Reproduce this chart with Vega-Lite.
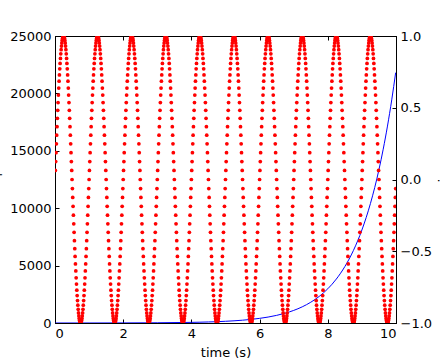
{"$schema":"https://vega.github.io/schema/vega-lite/v6.json","width":341,"height":287,"autosize":"none","padding":{"left":55,"top":36,"right":44,"bottom":37},
"config":{"view":{"stroke":"black","strokeWidth":1},"font":"DejaVu Sans","axis":{"labelFont":"DejaVu Sans","titleFont":"DejaVu Sans","labelFontSize":13,"titleFontSize":13,"titleFontWeight":"normal","labelColor":"black","titleColor":"black","domainColor":"black","tickColor":"black","tickSize":-4,"grid":false,"labelPadding":8}},
"datasets":{"expd":[{"t":0.01,"e":1.01},{"t":1,"e":2.718},{"t":2,"e":7.389},{"t":3,"e":20.09},{"t":4,"e":54.6},{"t":4.25,"e":70.1},{"t":4.5,"e":90.0},{"t":4.75,"e":115.6},{"t":5,"e":148.4},{"t":5.25,"e":190.6},{"t":5.5,"e":244.7},{"t":5.75,"e":314.2},{"t":6,"e":403.4},{"t":6.25,"e":518.0},{"t":6.5,"e":665.1},{"t":6.75,"e":854.1},{"t":7,"e":1096.6},{"t":7.25,"e":1408.1},{"t":7.5,"e":1808.0},{"t":7.75,"e":2321.6},{"t":8,"e":2981.0},{"t":8.25,"e":3827.6},{"t":8.5,"e":4914.8},{"t":8.75,"e":6310.7},{"t":9,"e":8103.1},{"t":9.25,"e":10404.6},{"t":9.5,"e":13359.7},{"t":9.625,"e":15138.6},{"t":9.75,"e":17154.2},{"t":9.875,"e":19438.3},{"t":9.99,"e":21807.3}],
"sind":[
{"t":0.01,"s":0.063},{"t":0.02,"s":0.125},{"t":0.03,"s":0.187},{"t":0.04,"s":0.249},{"t":0.05,"s":0.309},{"t":0.06,"s":0.368},{"t":0.07,"s":0.426},{"t":0.08,"s":0.482},{"t":0.09,"s":0.536},{"t":0.10,"s":0.588},{"t":0.11,"s":0.637},{"t":0.12,"s":0.685},{"t":0.13,"s":0.729},{"t":0.14,"s":0.771},{"t":0.15,"s":0.809},{"t":0.16,"s":0.844},{"t":0.17,"s":0.876},{"t":0.18,"s":0.905},{"t":0.19,"s":0.93},{"t":0.20,"s":0.951},{"t":0.21,"s":0.969},{"t":0.22,"s":0.982},{"t":0.23,"s":0.992},{"t":0.24,"s":0.998},{"t":0.25,"s":1},{"t":0.26,"s":0.998},{"t":0.27,"s":0.992},{"t":0.28,"s":0.982},{"t":0.29,"s":0.969},{"t":0.30,"s":0.951},{"t":0.31,"s":0.93},{"t":0.32,"s":0.905},{"t":0.33,"s":0.876},{"t":0.34,"s":0.844},{"t":0.35,"s":0.809},{"t":0.36,"s":0.771},{"t":0.37,"s":0.729},{"t":0.38,"s":0.685},{"t":0.39,"s":0.637},{"t":0.40,"s":0.588},{"t":0.41,"s":0.536},{"t":0.42,"s":0.482},{"t":0.43,"s":0.426},{"t":0.44,"s":0.368},{"t":0.45,"s":0.309},{"t":0.46,"s":0.249},{"t":0.47,"s":0.187},{"t":0.48,"s":0.125},{"t":0.49,"s":0.063},{"t":0.50,"s":0},{"t":0.51,"s":-0.063},{"t":0.52,"s":-0.125},{"t":0.53,"s":-0.187},{"t":0.54,"s":-0.249},{"t":0.55,"s":-0.309},{"t":0.56,"s":-0.368},{"t":0.57,"s":-0.426},{"t":0.58,"s":-0.482},{"t":0.59,"s":-0.536},{"t":0.60,"s":-0.588},{"t":0.61,"s":-0.637},{"t":0.62,"s":-0.685},{"t":0.63,"s":-0.729},{"t":0.64,"s":-0.771},{"t":0.65,"s":-0.809},{"t":0.66,"s":-0.844},{"t":0.67,"s":-0.876},{"t":0.68,"s":-0.905},{"t":0.69,"s":-0.93},{"t":0.70,"s":-0.951},{"t":0.71,"s":-0.969},{"t":0.72,"s":-0.982},{"t":0.73,"s":-0.992},{"t":0.74,"s":-0.998},{"t":0.75,"s":-1},{"t":0.76,"s":-0.998},{"t":0.77,"s":-0.992},{"t":0.78,"s":-0.982},{"t":0.79,"s":-0.969},{"t":0.80,"s":-0.951},{"t":0.81,"s":-0.93},{"t":0.82,"s":-0.905},{"t":0.83,"s":-0.876},{"t":0.84,"s":-0.844},{"t":0.85,"s":-0.809},{"t":0.86,"s":-0.771},{"t":0.87,"s":-0.729},{"t":0.88,"s":-0.685},{"t":0.89,"s":-0.637},{"t":0.90,"s":-0.588},{"t":0.91,"s":-0.536},{"t":0.92,"s":-0.482},{"t":0.93,"s":-0.426},{"t":0.94,"s":-0.368},{"t":0.95,"s":-0.309},{"t":0.96,"s":-0.249},{"t":0.97,"s":-0.187},{"t":0.98,"s":-0.125},{"t":0.99,"s":-0.063},
{"t":1.00,"s":0},{"t":1.01,"s":0.063},{"t":1.02,"s":0.125},{"t":1.03,"s":0.187},{"t":1.04,"s":0.249},{"t":1.05,"s":0.309},{"t":1.06,"s":0.368},{"t":1.07,"s":0.426},{"t":1.08,"s":0.482},{"t":1.09,"s":0.536},{"t":1.10,"s":0.588},{"t":1.11,"s":0.637},{"t":1.12,"s":0.685},{"t":1.13,"s":0.729},{"t":1.14,"s":0.771},{"t":1.15,"s":0.809},{"t":1.16,"s":0.844},{"t":1.17,"s":0.876},{"t":1.18,"s":0.905},{"t":1.19,"s":0.93},{"t":1.20,"s":0.951},{"t":1.21,"s":0.969},{"t":1.22,"s":0.982},{"t":1.23,"s":0.992},{"t":1.24,"s":0.998},{"t":1.25,"s":1},{"t":1.26,"s":0.998},{"t":1.27,"s":0.992},{"t":1.28,"s":0.982},{"t":1.29,"s":0.969},{"t":1.30,"s":0.951},{"t":1.31,"s":0.93},{"t":1.32,"s":0.905},{"t":1.33,"s":0.876},{"t":1.34,"s":0.844},{"t":1.35,"s":0.809},{"t":1.36,"s":0.771},{"t":1.37,"s":0.729},{"t":1.38,"s":0.685},{"t":1.39,"s":0.637},{"t":1.40,"s":0.588},{"t":1.41,"s":0.536},{"t":1.42,"s":0.482},{"t":1.43,"s":0.426},{"t":1.44,"s":0.368},{"t":1.45,"s":0.309},{"t":1.46,"s":0.249},{"t":1.47,"s":0.187},{"t":1.48,"s":0.125},{"t":1.49,"s":0.063},{"t":1.50,"s":0},{"t":1.51,"s":-0.063},{"t":1.52,"s":-0.125},{"t":1.53,"s":-0.187},{"t":1.54,"s":-0.249},{"t":1.55,"s":-0.309},{"t":1.56,"s":-0.368},{"t":1.57,"s":-0.426},{"t":1.58,"s":-0.482},{"t":1.59,"s":-0.536},{"t":1.60,"s":-0.588},{"t":1.61,"s":-0.637},{"t":1.62,"s":-0.685},{"t":1.63,"s":-0.729},{"t":1.64,"s":-0.771},{"t":1.65,"s":-0.809},{"t":1.66,"s":-0.844},{"t":1.67,"s":-0.876},{"t":1.68,"s":-0.905},{"t":1.69,"s":-0.93},{"t":1.70,"s":-0.951},{"t":1.71,"s":-0.969},{"t":1.72,"s":-0.982},{"t":1.73,"s":-0.992},{"t":1.74,"s":-0.998},{"t":1.75,"s":-1},{"t":1.76,"s":-0.998},{"t":1.77,"s":-0.992},{"t":1.78,"s":-0.982},{"t":1.79,"s":-0.969},{"t":1.80,"s":-0.951},{"t":1.81,"s":-0.93},{"t":1.82,"s":-0.905},{"t":1.83,"s":-0.876},{"t":1.84,"s":-0.844},{"t":1.85,"s":-0.809},{"t":1.86,"s":-0.771},{"t":1.87,"s":-0.729},{"t":1.88,"s":-0.685},{"t":1.89,"s":-0.637},{"t":1.90,"s":-0.588},{"t":1.91,"s":-0.536},{"t":1.92,"s":-0.482},{"t":1.93,"s":-0.426},{"t":1.94,"s":-0.368},{"t":1.95,"s":-0.309},{"t":1.96,"s":-0.249},{"t":1.97,"s":-0.187},{"t":1.98,"s":-0.125},{"t":1.99,"s":-0.063},
{"t":2.00,"s":0},{"t":2.01,"s":0.063},{"t":2.02,"s":0.125},{"t":2.03,"s":0.187},{"t":2.04,"s":0.249},{"t":2.05,"s":0.309},{"t":2.06,"s":0.368},{"t":2.07,"s":0.426},{"t":2.08,"s":0.482},{"t":2.09,"s":0.536},{"t":2.10,"s":0.588},{"t":2.11,"s":0.637},{"t":2.12,"s":0.685},{"t":2.13,"s":0.729},{"t":2.14,"s":0.771},{"t":2.15,"s":0.809},{"t":2.16,"s":0.844},{"t":2.17,"s":0.876},{"t":2.18,"s":0.905},{"t":2.19,"s":0.93},{"t":2.20,"s":0.951},{"t":2.21,"s":0.969},{"t":2.22,"s":0.982},{"t":2.23,"s":0.992},{"t":2.24,"s":0.998},{"t":2.25,"s":1},{"t":2.26,"s":0.998},{"t":2.27,"s":0.992},{"t":2.28,"s":0.982},{"t":2.29,"s":0.969},{"t":2.30,"s":0.951},{"t":2.31,"s":0.93},{"t":2.32,"s":0.905},{"t":2.33,"s":0.876},{"t":2.34,"s":0.844},{"t":2.35,"s":0.809},{"t":2.36,"s":0.771},{"t":2.37,"s":0.729},{"t":2.38,"s":0.685},{"t":2.39,"s":0.637},{"t":2.40,"s":0.588},{"t":2.41,"s":0.536},{"t":2.42,"s":0.482},{"t":2.43,"s":0.426},{"t":2.44,"s":0.368},{"t":2.45,"s":0.309},{"t":2.46,"s":0.249},{"t":2.47,"s":0.187},{"t":2.48,"s":0.125},{"t":2.49,"s":0.063},{"t":2.50,"s":0},{"t":2.51,"s":-0.063},{"t":2.52,"s":-0.125},{"t":2.53,"s":-0.187},{"t":2.54,"s":-0.249},{"t":2.55,"s":-0.309},{"t":2.56,"s":-0.368},{"t":2.57,"s":-0.426},{"t":2.58,"s":-0.482},{"t":2.59,"s":-0.536},{"t":2.60,"s":-0.588},{"t":2.61,"s":-0.637},{"t":2.62,"s":-0.685},{"t":2.63,"s":-0.729},{"t":2.64,"s":-0.771},{"t":2.65,"s":-0.809},{"t":2.66,"s":-0.844},{"t":2.67,"s":-0.876},{"t":2.68,"s":-0.905},{"t":2.69,"s":-0.93},{"t":2.70,"s":-0.951},{"t":2.71,"s":-0.969},{"t":2.72,"s":-0.982},{"t":2.73,"s":-0.992},{"t":2.74,"s":-0.998},{"t":2.75,"s":-1},{"t":2.76,"s":-0.998},{"t":2.77,"s":-0.992},{"t":2.78,"s":-0.982},{"t":2.79,"s":-0.969},{"t":2.80,"s":-0.951},{"t":2.81,"s":-0.93},{"t":2.82,"s":-0.905},{"t":2.83,"s":-0.876},{"t":2.84,"s":-0.844},{"t":2.85,"s":-0.809},{"t":2.86,"s":-0.771},{"t":2.87,"s":-0.729},{"t":2.88,"s":-0.685},{"t":2.89,"s":-0.637},{"t":2.90,"s":-0.588},{"t":2.91,"s":-0.536},{"t":2.92,"s":-0.482},{"t":2.93,"s":-0.426},{"t":2.94,"s":-0.368},{"t":2.95,"s":-0.309},{"t":2.96,"s":-0.249},{"t":2.97,"s":-0.187},{"t":2.98,"s":-0.125},{"t":2.99,"s":-0.063},
{"t":3.00,"s":0},{"t":3.01,"s":0.063},{"t":3.02,"s":0.125},{"t":3.03,"s":0.187},{"t":3.04,"s":0.249},{"t":3.05,"s":0.309},{"t":3.06,"s":0.368},{"t":3.07,"s":0.426},{"t":3.08,"s":0.482},{"t":3.09,"s":0.536},{"t":3.10,"s":0.588},{"t":3.11,"s":0.637},{"t":3.12,"s":0.685},{"t":3.13,"s":0.729},{"t":3.14,"s":0.771},{"t":3.15,"s":0.809},{"t":3.16,"s":0.844},{"t":3.17,"s":0.876},{"t":3.18,"s":0.905},{"t":3.19,"s":0.93},{"t":3.20,"s":0.951},{"t":3.21,"s":0.969},{"t":3.22,"s":0.982},{"t":3.23,"s":0.992},{"t":3.24,"s":0.998},{"t":3.25,"s":1},{"t":3.26,"s":0.998},{"t":3.27,"s":0.992},{"t":3.28,"s":0.982},{"t":3.29,"s":0.969},{"t":3.30,"s":0.951},{"t":3.31,"s":0.93},{"t":3.32,"s":0.905},{"t":3.33,"s":0.876},{"t":3.34,"s":0.844},{"t":3.35,"s":0.809},{"t":3.36,"s":0.771},{"t":3.37,"s":0.729},{"t":3.38,"s":0.685},{"t":3.39,"s":0.637},{"t":3.40,"s":0.588},{"t":3.41,"s":0.536},{"t":3.42,"s":0.482},{"t":3.43,"s":0.426},{"t":3.44,"s":0.368},{"t":3.45,"s":0.309},{"t":3.46,"s":0.249},{"t":3.47,"s":0.187},{"t":3.48,"s":0.125},{"t":3.49,"s":0.063},{"t":3.50,"s":0},{"t":3.51,"s":-0.063},{"t":3.52,"s":-0.125},{"t":3.53,"s":-0.187},{"t":3.54,"s":-0.249},{"t":3.55,"s":-0.309},{"t":3.56,"s":-0.368},{"t":3.57,"s":-0.426},{"t":3.58,"s":-0.482},{"t":3.59,"s":-0.536},{"t":3.60,"s":-0.588},{"t":3.61,"s":-0.637},{"t":3.62,"s":-0.685},{"t":3.63,"s":-0.729},{"t":3.64,"s":-0.771},{"t":3.65,"s":-0.809},{"t":3.66,"s":-0.844},{"t":3.67,"s":-0.876},{"t":3.68,"s":-0.905},{"t":3.69,"s":-0.93},{"t":3.70,"s":-0.951},{"t":3.71,"s":-0.969},{"t":3.72,"s":-0.982},{"t":3.73,"s":-0.992},{"t":3.74,"s":-0.998},{"t":3.75,"s":-1},{"t":3.76,"s":-0.998},{"t":3.77,"s":-0.992},{"t":3.78,"s":-0.982},{"t":3.79,"s":-0.969},{"t":3.80,"s":-0.951},{"t":3.81,"s":-0.93},{"t":3.82,"s":-0.905},{"t":3.83,"s":-0.876},{"t":3.84,"s":-0.844},{"t":3.85,"s":-0.809},{"t":3.86,"s":-0.771},{"t":3.87,"s":-0.729},{"t":3.88,"s":-0.685},{"t":3.89,"s":-0.637},{"t":3.90,"s":-0.588},{"t":3.91,"s":-0.536},{"t":3.92,"s":-0.482},{"t":3.93,"s":-0.426},{"t":3.94,"s":-0.368},{"t":3.95,"s":-0.309},{"t":3.96,"s":-0.249},{"t":3.97,"s":-0.187},{"t":3.98,"s":-0.125},{"t":3.99,"s":-0.063},
{"t":4.00,"s":0},{"t":4.01,"s":0.063},{"t":4.02,"s":0.125},{"t":4.03,"s":0.187},{"t":4.04,"s":0.249},{"t":4.05,"s":0.309},{"t":4.06,"s":0.368},{"t":4.07,"s":0.426},{"t":4.08,"s":0.482},{"t":4.09,"s":0.536},{"t":4.10,"s":0.588},{"t":4.11,"s":0.637},{"t":4.12,"s":0.685},{"t":4.13,"s":0.729},{"t":4.14,"s":0.771},{"t":4.15,"s":0.809},{"t":4.16,"s":0.844},{"t":4.17,"s":0.876},{"t":4.18,"s":0.905},{"t":4.19,"s":0.93},{"t":4.20,"s":0.951},{"t":4.21,"s":0.969},{"t":4.22,"s":0.982},{"t":4.23,"s":0.992},{"t":4.24,"s":0.998},{"t":4.25,"s":1},{"t":4.26,"s":0.998},{"t":4.27,"s":0.992},{"t":4.28,"s":0.982},{"t":4.29,"s":0.969},{"t":4.30,"s":0.951},{"t":4.31,"s":0.93},{"t":4.32,"s":0.905},{"t":4.33,"s":0.876},{"t":4.34,"s":0.844},{"t":4.35,"s":0.809},{"t":4.36,"s":0.771},{"t":4.37,"s":0.729},{"t":4.38,"s":0.685},{"t":4.39,"s":0.637},{"t":4.40,"s":0.588},{"t":4.41,"s":0.536},{"t":4.42,"s":0.482},{"t":4.43,"s":0.426},{"t":4.44,"s":0.368},{"t":4.45,"s":0.309},{"t":4.46,"s":0.249},{"t":4.47,"s":0.187},{"t":4.48,"s":0.125},{"t":4.49,"s":0.063},{"t":4.50,"s":0},{"t":4.51,"s":-0.063},{"t":4.52,"s":-0.125},{"t":4.53,"s":-0.187},{"t":4.54,"s":-0.249},{"t":4.55,"s":-0.309},{"t":4.56,"s":-0.368},{"t":4.57,"s":-0.426},{"t":4.58,"s":-0.482},{"t":4.59,"s":-0.536},{"t":4.60,"s":-0.588},{"t":4.61,"s":-0.637},{"t":4.62,"s":-0.685},{"t":4.63,"s":-0.729},{"t":4.64,"s":-0.771},{"t":4.65,"s":-0.809},{"t":4.66,"s":-0.844},{"t":4.67,"s":-0.876},{"t":4.68,"s":-0.905},{"t":4.69,"s":-0.93},{"t":4.70,"s":-0.951},{"t":4.71,"s":-0.969},{"t":4.72,"s":-0.982},{"t":4.73,"s":-0.992},{"t":4.74,"s":-0.998},{"t":4.75,"s":-1},{"t":4.76,"s":-0.998},{"t":4.77,"s":-0.992},{"t":4.78,"s":-0.982},{"t":4.79,"s":-0.969},{"t":4.80,"s":-0.951},{"t":4.81,"s":-0.93},{"t":4.82,"s":-0.905},{"t":4.83,"s":-0.876},{"t":4.84,"s":-0.844},{"t":4.85,"s":-0.809},{"t":4.86,"s":-0.771},{"t":4.87,"s":-0.729},{"t":4.88,"s":-0.685},{"t":4.89,"s":-0.637},{"t":4.90,"s":-0.588},{"t":4.91,"s":-0.536},{"t":4.92,"s":-0.482},{"t":4.93,"s":-0.426},{"t":4.94,"s":-0.368},{"t":4.95,"s":-0.309},{"t":4.96,"s":-0.249},{"t":4.97,"s":-0.187},{"t":4.98,"s":-0.125},{"t":4.99,"s":-0.063},
{"t":5.00,"s":0},{"t":5.01,"s":0.063},{"t":5.02,"s":0.125},{"t":5.03,"s":0.187},{"t":5.04,"s":0.249},{"t":5.05,"s":0.309},{"t":5.06,"s":0.368},{"t":5.07,"s":0.426},{"t":5.08,"s":0.482},{"t":5.09,"s":0.536},{"t":5.10,"s":0.588},{"t":5.11,"s":0.637},{"t":5.12,"s":0.685},{"t":5.13,"s":0.729},{"t":5.14,"s":0.771},{"t":5.15,"s":0.809},{"t":5.16,"s":0.844},{"t":5.17,"s":0.876},{"t":5.18,"s":0.905},{"t":5.19,"s":0.93},{"t":5.20,"s":0.951},{"t":5.21,"s":0.969},{"t":5.22,"s":0.982},{"t":5.23,"s":0.992},{"t":5.24,"s":0.998},{"t":5.25,"s":1},{"t":5.26,"s":0.998},{"t":5.27,"s":0.992},{"t":5.28,"s":0.982},{"t":5.29,"s":0.969},{"t":5.30,"s":0.951},{"t":5.31,"s":0.93},{"t":5.32,"s":0.905},{"t":5.33,"s":0.876},{"t":5.34,"s":0.844},{"t":5.35,"s":0.809},{"t":5.36,"s":0.771},{"t":5.37,"s":0.729},{"t":5.38,"s":0.685},{"t":5.39,"s":0.637},{"t":5.40,"s":0.588},{"t":5.41,"s":0.536},{"t":5.42,"s":0.482},{"t":5.43,"s":0.426},{"t":5.44,"s":0.368},{"t":5.45,"s":0.309},{"t":5.46,"s":0.249},{"t":5.47,"s":0.187},{"t":5.48,"s":0.125},{"t":5.49,"s":0.063},{"t":5.50,"s":0},{"t":5.51,"s":-0.063},{"t":5.52,"s":-0.125},{"t":5.53,"s":-0.187},{"t":5.54,"s":-0.249},{"t":5.55,"s":-0.309},{"t":5.56,"s":-0.368},{"t":5.57,"s":-0.426},{"t":5.58,"s":-0.482},{"t":5.59,"s":-0.536},{"t":5.60,"s":-0.588},{"t":5.61,"s":-0.637},{"t":5.62,"s":-0.685},{"t":5.63,"s":-0.729},{"t":5.64,"s":-0.771},{"t":5.65,"s":-0.809},{"t":5.66,"s":-0.844},{"t":5.67,"s":-0.876},{"t":5.68,"s":-0.905},{"t":5.69,"s":-0.93},{"t":5.70,"s":-0.951},{"t":5.71,"s":-0.969},{"t":5.72,"s":-0.982},{"t":5.73,"s":-0.992},{"t":5.74,"s":-0.998},{"t":5.75,"s":-1},{"t":5.76,"s":-0.998},{"t":5.77,"s":-0.992},{"t":5.78,"s":-0.982},{"t":5.79,"s":-0.969},{"t":5.80,"s":-0.951},{"t":5.81,"s":-0.93},{"t":5.82,"s":-0.905},{"t":5.83,"s":-0.876},{"t":5.84,"s":-0.844},{"t":5.85,"s":-0.809},{"t":5.86,"s":-0.771},{"t":5.87,"s":-0.729},{"t":5.88,"s":-0.685},{"t":5.89,"s":-0.637},{"t":5.90,"s":-0.588},{"t":5.91,"s":-0.536},{"t":5.92,"s":-0.482},{"t":5.93,"s":-0.426},{"t":5.94,"s":-0.368},{"t":5.95,"s":-0.309},{"t":5.96,"s":-0.249},{"t":5.97,"s":-0.187},{"t":5.98,"s":-0.125},{"t":5.99,"s":-0.063},
{"t":6.00,"s":0},{"t":6.01,"s":0.063},{"t":6.02,"s":0.125},{"t":6.03,"s":0.187},{"t":6.04,"s":0.249},{"t":6.05,"s":0.309},{"t":6.06,"s":0.368},{"t":6.07,"s":0.426},{"t":6.08,"s":0.482},{"t":6.09,"s":0.536},{"t":6.10,"s":0.588},{"t":6.11,"s":0.637},{"t":6.12,"s":0.685},{"t":6.13,"s":0.729},{"t":6.14,"s":0.771},{"t":6.15,"s":0.809},{"t":6.16,"s":0.844},{"t":6.17,"s":0.876},{"t":6.18,"s":0.905},{"t":6.19,"s":0.93},{"t":6.20,"s":0.951},{"t":6.21,"s":0.969},{"t":6.22,"s":0.982},{"t":6.23,"s":0.992},{"t":6.24,"s":0.998},{"t":6.25,"s":1},{"t":6.26,"s":0.998},{"t":6.27,"s":0.992},{"t":6.28,"s":0.982},{"t":6.29,"s":0.969},{"t":6.30,"s":0.951},{"t":6.31,"s":0.93},{"t":6.32,"s":0.905},{"t":6.33,"s":0.876},{"t":6.34,"s":0.844},{"t":6.35,"s":0.809},{"t":6.36,"s":0.771},{"t":6.37,"s":0.729},{"t":6.38,"s":0.685},{"t":6.39,"s":0.637},{"t":6.40,"s":0.588},{"t":6.41,"s":0.536},{"t":6.42,"s":0.482},{"t":6.43,"s":0.426},{"t":6.44,"s":0.368},{"t":6.45,"s":0.309},{"t":6.46,"s":0.249},{"t":6.47,"s":0.187},{"t":6.48,"s":0.125},{"t":6.49,"s":0.063},{"t":6.50,"s":0},{"t":6.51,"s":-0.063},{"t":6.52,"s":-0.125},{"t":6.53,"s":-0.187},{"t":6.54,"s":-0.249},{"t":6.55,"s":-0.309},{"t":6.56,"s":-0.368},{"t":6.57,"s":-0.426},{"t":6.58,"s":-0.482},{"t":6.59,"s":-0.536},{"t":6.60,"s":-0.588},{"t":6.61,"s":-0.637},{"t":6.62,"s":-0.685},{"t":6.63,"s":-0.729},{"t":6.64,"s":-0.771},{"t":6.65,"s":-0.809},{"t":6.66,"s":-0.844},{"t":6.67,"s":-0.876},{"t":6.68,"s":-0.905},{"t":6.69,"s":-0.93},{"t":6.70,"s":-0.951},{"t":6.71,"s":-0.969},{"t":6.72,"s":-0.982},{"t":6.73,"s":-0.992},{"t":6.74,"s":-0.998},{"t":6.75,"s":-1},{"t":6.76,"s":-0.998},{"t":6.77,"s":-0.992},{"t":6.78,"s":-0.982},{"t":6.79,"s":-0.969},{"t":6.80,"s":-0.951},{"t":6.81,"s":-0.93},{"t":6.82,"s":-0.905},{"t":6.83,"s":-0.876},{"t":6.84,"s":-0.844},{"t":6.85,"s":-0.809},{"t":6.86,"s":-0.771},{"t":6.87,"s":-0.729},{"t":6.88,"s":-0.685},{"t":6.89,"s":-0.637},{"t":6.90,"s":-0.588},{"t":6.91,"s":-0.536},{"t":6.92,"s":-0.482},{"t":6.93,"s":-0.426},{"t":6.94,"s":-0.368},{"t":6.95,"s":-0.309},{"t":6.96,"s":-0.249},{"t":6.97,"s":-0.187},{"t":6.98,"s":-0.125},{"t":6.99,"s":-0.063},
{"t":7.00,"s":0},{"t":7.01,"s":0.063},{"t":7.02,"s":0.125},{"t":7.03,"s":0.187},{"t":7.04,"s":0.249},{"t":7.05,"s":0.309},{"t":7.06,"s":0.368},{"t":7.07,"s":0.426},{"t":7.08,"s":0.482},{"t":7.09,"s":0.536},{"t":7.10,"s":0.588},{"t":7.11,"s":0.637},{"t":7.12,"s":0.685},{"t":7.13,"s":0.729},{"t":7.14,"s":0.771},{"t":7.15,"s":0.809},{"t":7.16,"s":0.844},{"t":7.17,"s":0.876},{"t":7.18,"s":0.905},{"t":7.19,"s":0.93},{"t":7.20,"s":0.951},{"t":7.21,"s":0.969},{"t":7.22,"s":0.982},{"t":7.23,"s":0.992},{"t":7.24,"s":0.998},{"t":7.25,"s":1},{"t":7.26,"s":0.998},{"t":7.27,"s":0.992},{"t":7.28,"s":0.982},{"t":7.29,"s":0.969},{"t":7.30,"s":0.951},{"t":7.31,"s":0.93},{"t":7.32,"s":0.905},{"t":7.33,"s":0.876},{"t":7.34,"s":0.844},{"t":7.35,"s":0.809},{"t":7.36,"s":0.771},{"t":7.37,"s":0.729},{"t":7.38,"s":0.685},{"t":7.39,"s":0.637},{"t":7.40,"s":0.588},{"t":7.41,"s":0.536},{"t":7.42,"s":0.482},{"t":7.43,"s":0.426},{"t":7.44,"s":0.368},{"t":7.45,"s":0.309},{"t":7.46,"s":0.249},{"t":7.47,"s":0.187},{"t":7.48,"s":0.125},{"t":7.49,"s":0.063},{"t":7.50,"s":0},{"t":7.51,"s":-0.063},{"t":7.52,"s":-0.125},{"t":7.53,"s":-0.187},{"t":7.54,"s":-0.249},{"t":7.55,"s":-0.309},{"t":7.56,"s":-0.368},{"t":7.57,"s":-0.426},{"t":7.58,"s":-0.482},{"t":7.59,"s":-0.536},{"t":7.60,"s":-0.588},{"t":7.61,"s":-0.637},{"t":7.62,"s":-0.685},{"t":7.63,"s":-0.729},{"t":7.64,"s":-0.771},{"t":7.65,"s":-0.809},{"t":7.66,"s":-0.844},{"t":7.67,"s":-0.876},{"t":7.68,"s":-0.905},{"t":7.69,"s":-0.93},{"t":7.70,"s":-0.951},{"t":7.71,"s":-0.969},{"t":7.72,"s":-0.982},{"t":7.73,"s":-0.992},{"t":7.74,"s":-0.998},{"t":7.75,"s":-1},{"t":7.76,"s":-0.998},{"t":7.77,"s":-0.992},{"t":7.78,"s":-0.982},{"t":7.79,"s":-0.969},{"t":7.80,"s":-0.951},{"t":7.81,"s":-0.93},{"t":7.82,"s":-0.905},{"t":7.83,"s":-0.876},{"t":7.84,"s":-0.844},{"t":7.85,"s":-0.809},{"t":7.86,"s":-0.771},{"t":7.87,"s":-0.729},{"t":7.88,"s":-0.685},{"t":7.89,"s":-0.637},{"t":7.90,"s":-0.588},{"t":7.91,"s":-0.536},{"t":7.92,"s":-0.482},{"t":7.93,"s":-0.426},{"t":7.94,"s":-0.368},{"t":7.95,"s":-0.309},{"t":7.96,"s":-0.249},{"t":7.97,"s":-0.187},{"t":7.98,"s":-0.125},{"t":7.99,"s":-0.063},
{"t":8.00,"s":0},{"t":8.01,"s":0.063},{"t":8.02,"s":0.125},{"t":8.03,"s":0.187},{"t":8.04,"s":0.249},{"t":8.05,"s":0.309},{"t":8.06,"s":0.368},{"t":8.07,"s":0.426},{"t":8.08,"s":0.482},{"t":8.09,"s":0.536},{"t":8.10,"s":0.588},{"t":8.11,"s":0.637},{"t":8.12,"s":0.685},{"t":8.13,"s":0.729},{"t":8.14,"s":0.771},{"t":8.15,"s":0.809},{"t":8.16,"s":0.844},{"t":8.17,"s":0.876},{"t":8.18,"s":0.905},{"t":8.19,"s":0.93},{"t":8.20,"s":0.951},{"t":8.21,"s":0.969},{"t":8.22,"s":0.982},{"t":8.23,"s":0.992},{"t":8.24,"s":0.998},{"t":8.25,"s":1},{"t":8.26,"s":0.998},{"t":8.27,"s":0.992},{"t":8.28,"s":0.982},{"t":8.29,"s":0.969},{"t":8.30,"s":0.951},{"t":8.31,"s":0.93},{"t":8.32,"s":0.905},{"t":8.33,"s":0.876},{"t":8.34,"s":0.844},{"t":8.35,"s":0.809},{"t":8.36,"s":0.771},{"t":8.37,"s":0.729},{"t":8.38,"s":0.685},{"t":8.39,"s":0.637},{"t":8.40,"s":0.588},{"t":8.41,"s":0.536},{"t":8.42,"s":0.482},{"t":8.43,"s":0.426},{"t":8.44,"s":0.368},{"t":8.45,"s":0.309},{"t":8.46,"s":0.249},{"t":8.47,"s":0.187},{"t":8.48,"s":0.125},{"t":8.49,"s":0.063},{"t":8.50,"s":0},{"t":8.51,"s":-0.063},{"t":8.52,"s":-0.125},{"t":8.53,"s":-0.187},{"t":8.54,"s":-0.249},{"t":8.55,"s":-0.309},{"t":8.56,"s":-0.368},{"t":8.57,"s":-0.426},{"t":8.58,"s":-0.482},{"t":8.59,"s":-0.536},{"t":8.60,"s":-0.588},{"t":8.61,"s":-0.637},{"t":8.62,"s":-0.685},{"t":8.63,"s":-0.729},{"t":8.64,"s":-0.771},{"t":8.65,"s":-0.809},{"t":8.66,"s":-0.844},{"t":8.67,"s":-0.876},{"t":8.68,"s":-0.905},{"t":8.69,"s":-0.93},{"t":8.70,"s":-0.951},{"t":8.71,"s":-0.969},{"t":8.72,"s":-0.982},{"t":8.73,"s":-0.992},{"t":8.74,"s":-0.998},{"t":8.75,"s":-1},{"t":8.76,"s":-0.998},{"t":8.77,"s":-0.992},{"t":8.78,"s":-0.982},{"t":8.79,"s":-0.969},{"t":8.80,"s":-0.951},{"t":8.81,"s":-0.93},{"t":8.82,"s":-0.905},{"t":8.83,"s":-0.876},{"t":8.84,"s":-0.844},{"t":8.85,"s":-0.809},{"t":8.86,"s":-0.771},{"t":8.87,"s":-0.729},{"t":8.88,"s":-0.685},{"t":8.89,"s":-0.637},{"t":8.90,"s":-0.588},{"t":8.91,"s":-0.536},{"t":8.92,"s":-0.482},{"t":8.93,"s":-0.426},{"t":8.94,"s":-0.368},{"t":8.95,"s":-0.309},{"t":8.96,"s":-0.249},{"t":8.97,"s":-0.187},{"t":8.98,"s":-0.125},{"t":8.99,"s":-0.063},
{"t":9.00,"s":0},{"t":9.01,"s":0.063},{"t":9.02,"s":0.125},{"t":9.03,"s":0.187},{"t":9.04,"s":0.249},{"t":9.05,"s":0.309},{"t":9.06,"s":0.368},{"t":9.07,"s":0.426},{"t":9.08,"s":0.482},{"t":9.09,"s":0.536},{"t":9.10,"s":0.588},{"t":9.11,"s":0.637},{"t":9.12,"s":0.685},{"t":9.13,"s":0.729},{"t":9.14,"s":0.771},{"t":9.15,"s":0.809},{"t":9.16,"s":0.844},{"t":9.17,"s":0.876},{"t":9.18,"s":0.905},{"t":9.19,"s":0.93},{"t":9.20,"s":0.951},{"t":9.21,"s":0.969},{"t":9.22,"s":0.982},{"t":9.23,"s":0.992},{"t":9.24,"s":0.998},{"t":9.25,"s":1},{"t":9.26,"s":0.998},{"t":9.27,"s":0.992},{"t":9.28,"s":0.982},{"t":9.29,"s":0.969},{"t":9.30,"s":0.951},{"t":9.31,"s":0.93},{"t":9.32,"s":0.905},{"t":9.33,"s":0.876},{"t":9.34,"s":0.844},{"t":9.35,"s":0.809},{"t":9.36,"s":0.771},{"t":9.37,"s":0.729},{"t":9.38,"s":0.685},{"t":9.39,"s":0.637},{"t":9.40,"s":0.588},{"t":9.41,"s":0.536},{"t":9.42,"s":0.482},{"t":9.43,"s":0.426},{"t":9.44,"s":0.368},{"t":9.45,"s":0.309},{"t":9.46,"s":0.249},{"t":9.47,"s":0.187},{"t":9.48,"s":0.125},{"t":9.49,"s":0.063},{"t":9.50,"s":0},{"t":9.51,"s":-0.063},{"t":9.52,"s":-0.125},{"t":9.53,"s":-0.187},{"t":9.54,"s":-0.249},{"t":9.55,"s":-0.309},{"t":9.56,"s":-0.368},{"t":9.57,"s":-0.426},{"t":9.58,"s":-0.482},{"t":9.59,"s":-0.536},{"t":9.60,"s":-0.588},{"t":9.61,"s":-0.637},{"t":9.62,"s":-0.685},{"t":9.63,"s":-0.729},{"t":9.64,"s":-0.771},{"t":9.65,"s":-0.809},{"t":9.66,"s":-0.844},{"t":9.67,"s":-0.876},{"t":9.68,"s":-0.905},{"t":9.69,"s":-0.93},{"t":9.70,"s":-0.951},{"t":9.71,"s":-0.969},{"t":9.72,"s":-0.982},{"t":9.73,"s":-0.992},{"t":9.74,"s":-0.998},{"t":9.75,"s":-1},{"t":9.76,"s":-0.998},{"t":9.77,"s":-0.992},{"t":9.78,"s":-0.982},{"t":9.79,"s":-0.969},{"t":9.80,"s":-0.951},{"t":9.81,"s":-0.93},{"t":9.82,"s":-0.905},{"t":9.83,"s":-0.876},{"t":9.84,"s":-0.844},{"t":9.85,"s":-0.809},{"t":9.86,"s":-0.771},{"t":9.87,"s":-0.729},{"t":9.88,"s":-0.685},{"t":9.89,"s":-0.637},{"t":9.90,"s":-0.588},{"t":9.91,"s":-0.536},{"t":9.92,"s":-0.482},{"t":9.93,"s":-0.426},{"t":9.94,"s":-0.368},{"t":9.95,"s":-0.309},{"t":9.96,"s":-0.249},{"t":9.97,"s":-0.187},{"t":9.98,"s":-0.125},{"t":9.99,"s":-0.063}
]},
"layer":[
{"data":{"name":"expd"},"mark":{"type":"line","color":"#0000ff","strokeWidth":1,"interpolate":"monotone","clip":true},
"encoding":{"x":{"field":"t","type":"quantitative","scale":{"domain":[0,10],"nice":false,"zero":false},"axis":{"orient":"bottom","values":[0,2,4,6,8,10],"title":"time (s)","titlePadding":6}},
"y":{"field":"e","type":"quantitative","scale":{"domain":[0,25000],"nice":false},"axis":{"orient":"left","values":[0,5000,10000,15000,20000,25000],"format":"d","title":"exp","titleX":-57,"titleBaseline":"alphabetic"}}}},
{"data":{"name":"sind"},"mark":{"type":"circle","color":"#ff0000","size":14,"opacity":1,"clip":true},
"encoding":{"x":{"field":"t","type":"quantitative","scale":{"domain":[0,10],"nice":false,"zero":false},"axis":{"orient":"top","labels":false,"title":null,"values":[0,2,4,6,8,10]}},
"y":{"field":"s","type":"quantitative","scale":{"domain":[-1,1],"nice":false},"axis":{"orient":"right","values":[-1,-0.5,0,0.5,1],"format":".1f","title":"sin","titleX":41,"titleAngle":-90,"titleBaseline":"top"}}}}
],
"resolve":{"scale":{"y":"independent"},"axis":{"x":"independent","y":"independent"}}}
